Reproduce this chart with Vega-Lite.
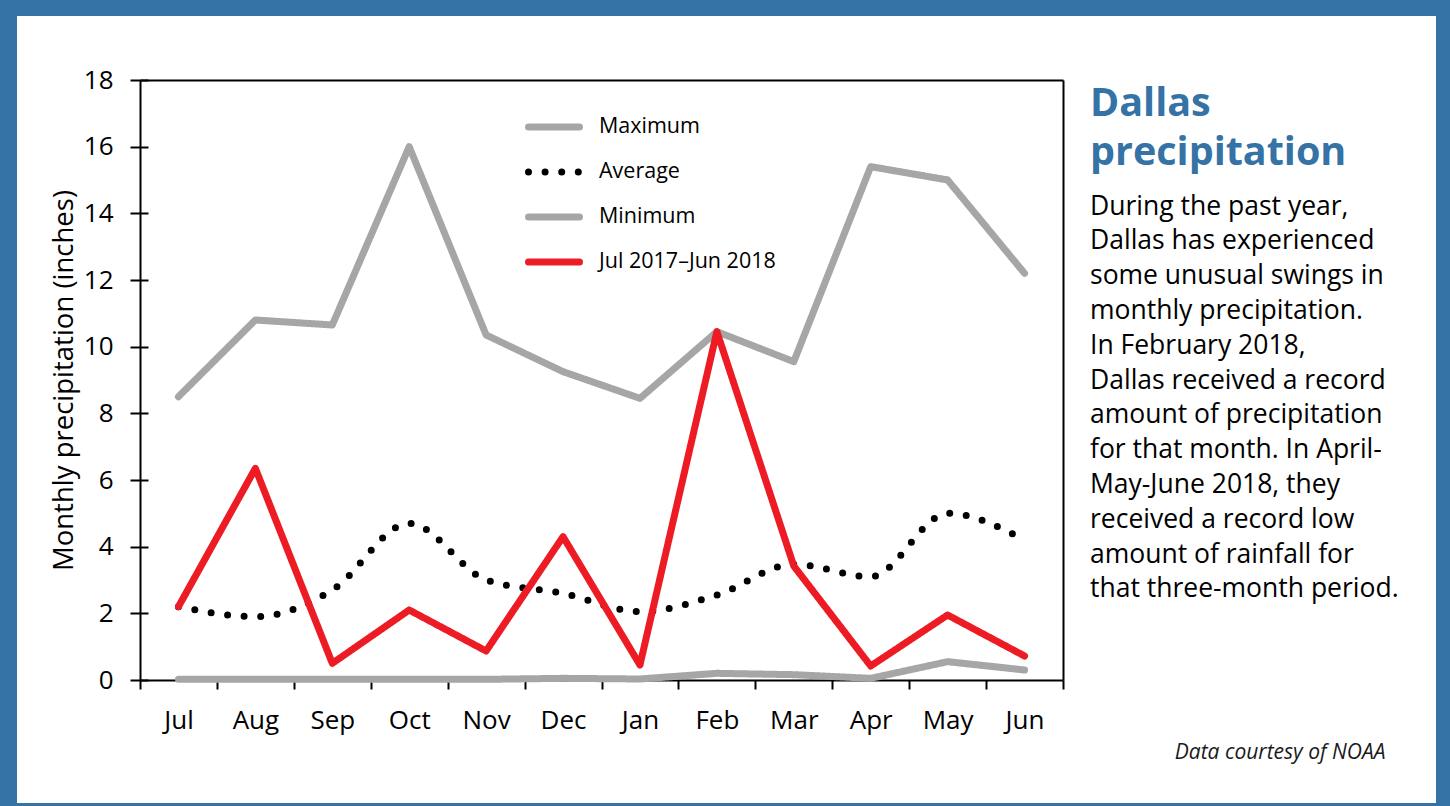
{
  "$schema": "https://vega.github.io/schema/vega-lite/v6.json",
  "width": 1419,
  "height": 787,
  "autosize": "none",
  "padding": {"left": 17, "top": 16, "right": 14, "bottom": 3},
  "background": "#3572a5",
  "config": {
    "font": "Open Sans",
    "view": {"fill": "white", "stroke": null},
    "axis": {"grid": false, "domainColor": "black", "domainWidth": 2, "tickColor": "black", "tickWidth": 2, "labelColor": "black", "titleColor": "black", "titleFontWeight": "normal"}
  },
  "title": {
    "text": ["Dallas", "precipitation"],
    "subtitle": ["During the past year,", "Dallas has experienced", "some unusual swings in", "monthly precipitation.", "In February 2018,", "Dallas received a record", "amount of precipitation", "for that month. In April-", "May-June 2018, they", "received a record low", "amount of rainfall for", "that three-month period."],
    "orient": "top",
    "anchor": "start",
    "frame": "group",
    "offset": -588,
    "dx": 1073,
    "font": "Open Sans",
    "fontSize": 39.5,
    "fontWeight": "bold",
    "color": "#3572a5",
    "lineHeight": 49,
    "subtitleFont": "Open Sans",
    "subtitleFontSize": 26.5,
    "subtitleColor": "black",
    "subtitleLineHeight": 34.8,
    "subtitlePadding": 20
  },
  "data": {
    "values": [
      {"month": "Jul", "series": "Maximum", "value": 8.5},
      {"month": "Aug", "series": "Maximum", "value": 10.8},
      {"month": "Sep", "series": "Maximum", "value": 10.65},
      {"month": "Oct", "series": "Maximum", "value": 16.0},
      {"month": "Nov", "series": "Maximum", "value": 10.35},
      {"month": "Dec", "series": "Maximum", "value": 9.25},
      {"month": "Jan", "series": "Maximum", "value": 8.45},
      {"month": "Feb", "series": "Maximum", "value": 10.45},
      {"month": "Mar", "series": "Maximum", "value": 9.55},
      {"month": "Apr", "series": "Maximum", "value": 15.4},
      {"month": "May", "series": "Maximum", "value": 15.0},
      {"month": "Jun", "series": "Maximum", "value": 12.2},
      {"month": "Jul", "series": "Average", "value": 2.2},
      {"month": "Aug", "series": "Average", "value": 1.9},
      {"month": "Sep", "series": "Average", "value": 2.7},
      {"month": "Oct", "series": "Average", "value": 4.7},
      {"month": "Nov", "series": "Average", "value": 3.0},
      {"month": "Dec", "series": "Average", "value": 2.6},
      {"month": "Jan", "series": "Average", "value": 2.05},
      {"month": "Feb", "series": "Average", "value": 2.55},
      {"month": "Mar", "series": "Average", "value": 3.47},
      {"month": "Apr", "series": "Average", "value": 3.1},
      {"month": "May", "series": "Average", "value": 5.0},
      {"month": "Jun", "series": "Average", "value": 4.2},
      {"month": "Jul", "series": "Minimum", "value": 0.02},
      {"month": "Aug", "series": "Minimum", "value": 0.02},
      {"month": "Sep", "series": "Minimum", "value": 0.02},
      {"month": "Oct", "series": "Minimum", "value": 0.02},
      {"month": "Nov", "series": "Minimum", "value": 0.02},
      {"month": "Dec", "series": "Minimum", "value": 0.05},
      {"month": "Jan", "series": "Minimum", "value": 0.03},
      {"month": "Feb", "series": "Minimum", "value": 0.2},
      {"month": "Mar", "series": "Minimum", "value": 0.16},
      {"month": "Apr", "series": "Minimum", "value": 0.05},
      {"month": "May", "series": "Minimum", "value": 0.55},
      {"month": "Jun", "series": "Minimum", "value": 0.3},
      {"month": "Jul", "series": "Jul 2017–Jun 2018", "value": 2.2},
      {"month": "Aug", "series": "Jul 2017–Jun 2018", "value": 6.35},
      {"month": "Sep", "series": "Jul 2017–Jun 2018", "value": 0.5},
      {"month": "Oct", "series": "Jul 2017–Jun 2018", "value": 2.1},
      {"month": "Nov", "series": "Jul 2017–Jun 2018", "value": 0.87},
      {"month": "Dec", "series": "Jul 2017–Jun 2018", "value": 4.3},
      {"month": "Jan", "series": "Jul 2017–Jun 2018", "value": 0.45},
      {"month": "Feb", "series": "Jul 2017–Jun 2018", "value": 10.45},
      {"month": "Mar", "series": "Jul 2017–Jun 2018", "value": 3.42},
      {"month": "Apr", "series": "Jul 2017–Jun 2018", "value": 0.42},
      {"month": "May", "series": "Jul 2017–Jun 2018", "value": 1.95},
      {"month": "Jun", "series": "Jul 2017–Jun 2018", "value": 0.72}
    ]
  },
  "encoding": {
    "x": {"field": "month", "type": "ordinal", "sort": ["Jul","Aug","Sep","Oct","Nov","Dec","Jan","Feb","Mar","Apr","May","Jun"], "scale": {"type": "band", "range": [123, 1046], "paddingInner": 0, "paddingOuter": 0}},
    "y": {"field": "value", "type": "quantitative", "scale": {"domain": [0, 18], "range": [664, 64], "nice": false, "zero": false}},
    "color": {"field": "series", "type": "nominal", "scale": {"domain": ["Maximum", "Average", "Minimum", "Jul 2017–Jun 2018"], "range": ["#a6a6a6", "#000000", "#a6a6a6", "#ed1c24"]}},
    "strokeDash": {"field": "series", "type": "nominal", "scale": {"domain": ["Maximum", "Average", "Minimum", "Jul 2017–Jun 2018"], "range": [[1, 0], [0, 16.6], [1, 0], [1, 0]]}}
  },
  "layer": [
    {
      "transform": [{"filter": "datum.series === 'Maximum'"}],
      "mark": {"type": "line", "strokeWidth": 7, "strokeCap": "round", "strokeJoin": "round"},
      "encoding": {
        "x": {"field": "month", "type": "ordinal", "sort": ["Jul","Aug","Sep","Oct","Nov","Dec","Jan","Feb","Mar","Apr","May","Jun"],
          "axis": {"orient": "bottom", "offset": -123, "tickBand": "extent", "tickSize": 9, "labelPadding": 18, "labelFontSize": 26, "labelAngle": 0,
            "title": "Data courtesy of NOAA", "titleX": 1368, "titleY": 78, "titleAlign": "right", "titleAnchor": "end", "titleBaseline": "alphabetic", "titleFontStyle": "italic", "titleFontSize": 21, "titleColor": "#1a1a1a"}},
        "y": {"field": "value", "type": "quantitative",
          "axis": {"orient": "left", "offset": -123, "values": [0, 2, 4, 6, 8, 10, 12, 14, 16, 18], "tickSize": 10, "labelPadding": 17, "labelFontSize": 26,
            "title": "Monthly precipitation (inches)", "titleFontSize": 27.5, "titlePadding": 5}},
        "color": {"field": "series", "type": "nominal",
          "legend": {"orient": "none", "legendX": 508, "legendY": 82, "title": null, "symbolType": "stroke", "symbolSize": 2601, "symbolStrokeWidth": 7,
            "labelFontSize": 21.5, "labelOffset": 16, "labelLimit": 400, "labelColor": "black", "rowPadding": 2, "padding": 0,
            "encode": {"symbols": {"update": {"strokeCap": {"value": "round"}}}}}}
      }
    },
    {
      "transform": [{"filter": "datum.series === 'Minimum'"}],
      "mark": {"type": "line", "strokeWidth": 7, "strokeCap": "round", "strokeJoin": "round"},
      "encoding": {
        "x": {"field": "month", "type": "ordinal", "sort": ["Jul","Aug","Sep","Oct","Nov","Dec","Jan","Feb","Mar","Apr","May","Jun"],
          "axis": {"orient": "top", "offset": -64, "labels": false, "ticks": false, "title": null}},
        "y": {"field": "value", "type": "quantitative",
          "axis": {"orient": "right", "offset": -373, "labels": false, "ticks": false, "title": null}}
      }
    },
    {
      "transform": [{"filter": "datum.series === 'Average'"}],
      "mark": {"type": "line", "strokeWidth": 7, "strokeCap": "round", "interpolate": "monotone"},
      "encoding": {
        "x": {"field": "month", "type": "ordinal", "sort": ["Jul","Aug","Sep","Oct","Nov","Dec","Jan","Feb","Mar","Apr","May","Jun"], "axis": null},
        "y": {"field": "value", "type": "quantitative",
          "axis": {"orient": "right", "offset": -1296, "domain": false, "labels": false, "tickSize": 8, "title": null, "values": [0, 2, 4, 6, 8, 10, 12, 14, 16, 18]}}
      }
    },
    {
      "transform": [{"filter": "datum.series === 'Jul 2017–Jun 2018'"}],
      "mark": {"type": "line", "strokeWidth": 7, "strokeCap": "round", "strokeJoin": "round"},
      "encoding": {
        "x": {"field": "month", "type": "ordinal", "sort": ["Jul","Aug","Sep","Oct","Nov","Dec","Jan","Feb","Mar","Apr","May","Jun"], "axis": null},
        "y": {"field": "value", "type": "quantitative", "axis": null}
      }
    }
  ],
  "resolve": {"axis": {"x": "independent", "y": "independent"}}
}
